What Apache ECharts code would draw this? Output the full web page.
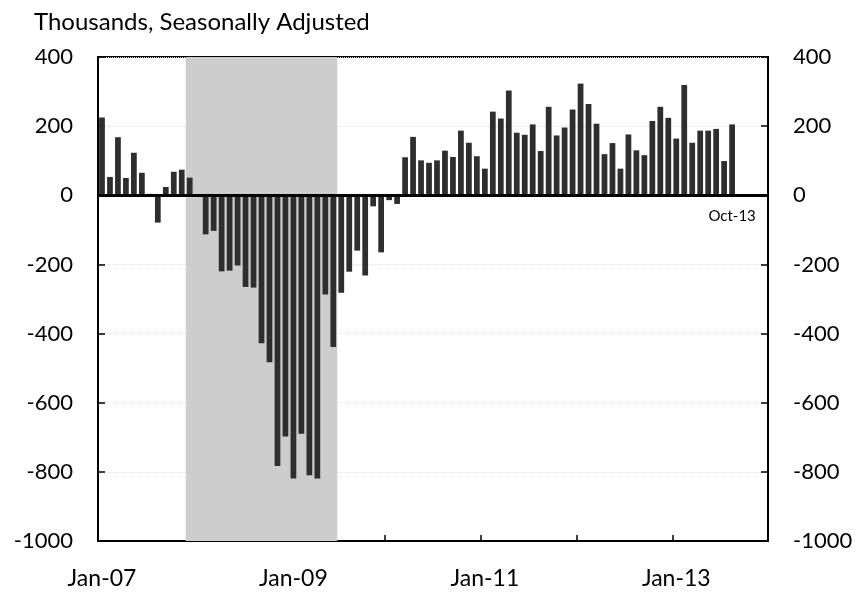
<!DOCTYPE html>
<html>
<head>
<meta charset="utf-8">
<script src="https://cdn.jsdelivr.net/npm/echarts@6/dist/echarts.min.js"></script>
<style>
    html, body { margin: 0; padding: 0; background: #fff; }
    #chart { width: 862px; height: 597px; }
</style>
</head>
<body>
<div id="chart"></div>
<script>
// monthly change, thousands
let jobs2007 = [225, 53, 168, 50, 123, 65, 4, -79, 24, 68, 74, 51];
let jobs2008 = [-3, -113, -103, -220, -218, -203, -265, -267, -428, -483, -783, -698];
let jobs2009 = [-819, -690, -810, -819, -287, -439, -282, -221, -160, -232, -32, -165];
let jobs2010 = [-14, -25, 110, 169, 101, 94, 101, 129, 111, 187, 152, 113];
let jobs2011 = [77, 242, 222, 303, 181, 175, 205, 128, 256, 173, 196, 248];
let jobs2012 = [323, 264, 207, 119, 151, 77, 176, 130, 116, 215, 256, 224];
let jobs2013 = [164, 319, 152, 187, 187, 192, 99, 205];

let years = ['07', '08', '09', '10', '11', '12', '13'];
let month_names = ['Jan', 'Feb', 'Mar', 'Apr', 'May', 'Jun', 'Jul', 'Aug', 'Sep', 'Oct', 'Nov', 'Dec'];
let y_ticks = [-1000, -800, -600, -400, -200, 0, 200, 400];
let recession = ['Dec-07', 'Jun-09'];
let last_label = 'Oct-13';

let months = [];
years.forEach(y => month_names.forEach(m => months.push(m + '-' + y)));
let jobs = [].concat(jobs2007, jobs2008, jobs2009, jobs2010, jobs2011, jobs2012, jobs2013);

let font = 'Lato, "Open Sans", sans-serif';

function y_axis(pos) {
    return {
        type: 'value', position: pos,
        min: y_ticks[0], max: y_ticks[y_ticks.length - 1], interval: 200,
        axisLine: { show: true, lineStyle: { color: '#000', width: 2 } },
        axisTick: { show: true, inside: true, length: 7, lineStyle: { color: '#000', width: 1.5 } },
        axisLabel: {
            fontSize: 22, color: '#000', margin: 25, fontFamily: font,
            formatter: function (v) { return String(v); }
        },
        splitLine: { show: pos === 'left', lineStyle: { color: '#e2e2e2', type: 'dotted', width: 1 } }
    };
}

let myChart = echarts.init(document.getElementById('chart'));
let option = {
    animation: false,
    title: {
        text: 'Thousands, Seasonally Adjusted',
        left: 29,
        top: 5,
        textStyle: { fontSize: 24, fontWeight: 'normal', color: '#000', fontFamily: font }
    },
    grid: {
        left: 98, right: 94, top: 57, bottom: 56,
        show: true, borderColor: '#000', borderWidth: 2
    },
    xAxis: [
        {
            type: 'category',
            data: months,
            axisLine: { show: true, onZero: false, lineStyle: { color: '#000', width: 2 } },
            axisTick: {
                show: true, inside: true, length: 6,
                interval: function (i) { return i % 12 === 0; },
                lineStyle: { color: '#000', width: 1.5 }
            },
            axisLabel: {
                interval: function (i) { return i % 24 === 0; },
                fontSize: 23, color: '#000', margin: 26, fontFamily: font
            },
            splitLine: { show: false }
        },
        {
            // helper axis so the shaded band sits on month edges
            type: 'value', min: 0, max: months.length, show: false
        }
    ],
    yAxis: [y_axis('left'), y_axis('right')],
    series: [
        {
            type: 'line',
            xAxisIndex: 1,
            yAxisIndex: 0,
            data: [],
            z: 1,
            silent: true,
            markArea: {
                silent: true,
                itemStyle: { color: '#cdcdcd' },
                data: [[
                    { xAxis: months.indexOf(recession[0]) },
                    { xAxis: months.indexOf(recession[1]) + 1 }
                ]]
            }
        },
        {
            type: 'bar',
            data: jobs,
            barWidth: '72%',
            z: 3,
            itemStyle: { color: '#2e2e2e' },
            markLine: {
                silent: true,
                symbol: 'none',
                label: { show: false },
                lineStyle: { color: '#000', width: 3, type: 'solid' },
                data: [{ yAxis: 0 }]
            },
            markPoint: {
                silent: true,
                symbolSize: 0,
                label: {
                    show: true, formatter: last_label, offset: [0, 21],
                    fontSize: 15, color: '#000', fontFamily: font
                },
                data: [{ coord: [months[jobs.length - 1], 0] }]
            }
        }
    ]
};
myChart.setOption(option);
</script>
</body>
</html>
